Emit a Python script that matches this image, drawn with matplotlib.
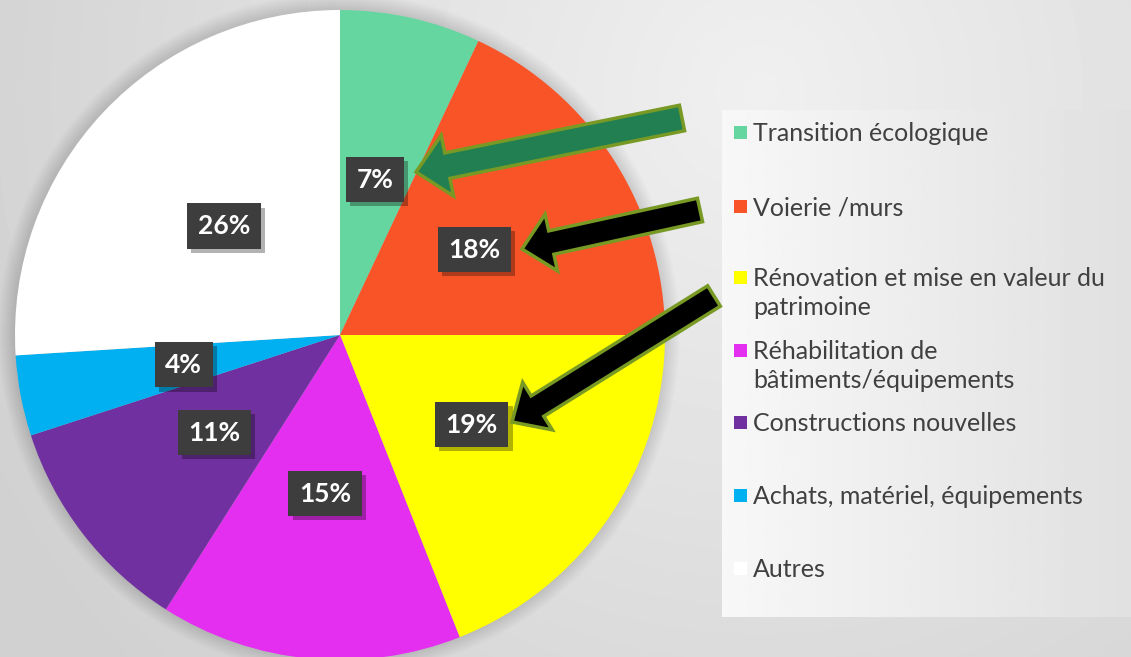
import numpy as np
import matplotlib.pyplot as plt
from matplotlib.patches import Rectangle, FancyArrow, Circle
import matplotlib.patheffects as pe

plt.rcParams['font.family'] = ['Lato', 'DejaVu Sans']

categories = ["Transition écologique", "Voierie /murs",
              "Rénovation et mise en valeur du\npatrimoine",
              "Réhabilitation de\nbâtiments/équipements",
              "Constructions nouvelles", "Achats, matériel, équipements", "Autres"]
shares = [7, 18, 19, 15, 11, 4, 26]
colors = ["#66d6a0", "#f95428", "#ffff00", "#e42ef0", "#7030a0", "#00b0f0", "#ffffff"]

W, H = 1131, 657
fig = plt.figure(figsize=(W / 100, H / 100), dpi=100)

# background gradient + soft pie shadow
bg = fig.add_axes([0, 0, 1, 1], zorder=0)
yy, xx = np.mgrid[0:H, 0:W]
d = np.hypot(xx - 760, yy - 90) / 850
shade = 0.94 - 0.12 * np.clip(d, 0, 1)
bg.imshow(shade, cmap='gray', vmin=0, vmax=1, extent=[0, W, H, 0], aspect='auto')
for k in range(16, 0, -1):
    bg.add_patch(Circle((339, 334), 325 + k, fc='black', ec='none', alpha=0.008))
bg.set_xlim(0, W)
bg.set_ylim(H, 0)
bg.axis('off')

# legend panel
lx = np.linspace(0.97, 0.88, 200)
panel = np.tile(lx, (100, 1))
bg.imshow(panel, cmap='gray', vmin=0, vmax=1, extent=[722, W, 617, 110], aspect='auto')
bg.set_xlim(0, W)
bg.set_ylim(H, 0)

# pie
ax = fig.add_axes([15 / W, (H - 335 - 325) / H, 650 / W, 650 / H], zorder=1)
wedges, texts, autotexts = ax.pie(
    shares, colors=colors, startangle=90, counterclock=False,
    autopct=lambda p: f'{p:.0f}%', pctdistance=0.49,
    wedgeprops=dict(linewidth=0),
    textprops=dict(color='white', fontsize=19, fontweight='bold'))
for t in autotexts:
    t.set_bbox(dict(boxstyle='square,pad=0.4', fc='#3d3d3d', ec='none'))
    t.get_bbox_patch().set_path_effects(
        [pe.SimplePatchShadow(offset=(3, -3), shadow_rgbFace='black', alpha=0.3), pe.Normal()])
ax.set_xlim(-1, 1)
ax.set_ylim(-1, 1)
ax.set_aspect('equal')

# overlay: arrows + legend
ov = fig.add_axes([0, 0, 1, 1], zorder=3)
ov.set_xlim(0, W)
ov.set_ylim(H, 0)
ov.axis('off')
ov.patch.set_alpha(0)

arrows = [((682, 118), (416, 172), '#217f52', 26, 62, 32),
          ((700, 210), (522, 249), 'black', 24, 58, 30),
          ((714, 296), (512, 422), 'black', 24, 56, 30)]
for (x0, y0), (x1, y1), fc, w, hw, hl in arrows:
    ov.add_patch(FancyArrow(x0, y0, x1 - x0, y1 - y0, width=w, head_width=hw,
                            head_length=hl, length_includes_head=True,
                            fc=fc, ec='#789a24', lw=2.5, joinstyle='miter'))

legend_y = [132, 206, 277, 350, 422, 495, 568]
for name, col, y in zip(categories, colors, legend_y):
    ov.add_patch(Rectangle((734, y - 6.5), 13, 13, fc=col, ec='none'))
    for i, line in enumerate(name.split('\n')):
        ov.text(753, y + 9 + 29 * i, line, fontsize=18, color='#404040',
                va='baseline', ha='left')

fig.savefig('out.png', dpi=100)
